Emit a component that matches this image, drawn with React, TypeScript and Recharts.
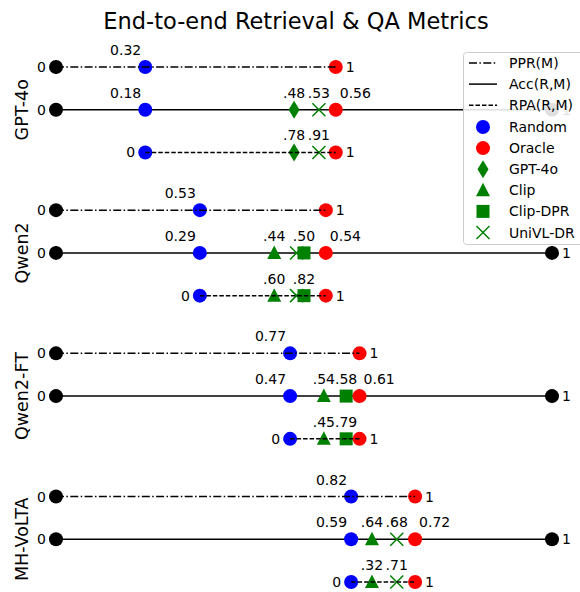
import React from "react";
import { ScatterChart, Scatter, XAxis, YAxis, Legend } from "recharts";

// models (one panel each, top to bottom)
const MODELS = ["GPT-4o", "Qwen2", "Qwen2-FT", "MH-VoLTA"];
// Acc(R,M) of the random and oracle retrievers
const RANDOM_ACC = [0.18, 0.29, 0.472, 0.595];
const ORACLE_ACC = [0.564, 0.544, 0.612, 0.724];
const RANDOM_LABELS = ["0.18", "0.29", "0.47", "0.59"];
const ORACLE_LABELS = ["0.56", "0.54", "0.61", "0.72"];
// PPR(M) = random / oracle, as printed
const PPR_LABELS = ["0.32", "0.53", "0.77", "0.82"];
// retrievers per model, in drawing order
const RETRIEVERS = [
  ["GPT-4o", "UniVL-DR"],
  ["Clip", "UniVL-DR", "Clip-DPR"],
  ["Clip", "Clip-DPR"],
  ["Clip", "UniVL-DR"],
];
const RETRIEVER_ACC = [
  [0.48, 0.53],
  [0.44, 0.485, 0.5],
  [0.54, 0.585],
  [0.637, 0.687],
];
const ACC_LABELS = [
  [".48", ".53"],
  [".44", "", ".50"],
  [".54", ".58"],
  [".64", ".68"],
];
const RPA_LABELS = [
  [".78", ".91"],
  [".60", "", ".82"],
  [".45", ".79"],
  [".32", ".71"],
];

const FONT = "'DejaVu Sans', sans-serif";
const PANEL_STEP = 3.35; // rows per panel incl. gap
const GREEN = "#008000";
const DASHDOT = "8 2.4 1.5 2.4";
const DASHED = "4.5 2";

const rowY = (p: number, row: number) => p * PANEL_STEP + row;

const accLines = MODELS.map((_, p) => [
  { x: 0, y: rowY(p, 1) },
  { x: 1, y: rowY(p, 1) },
]);
const pprLines = MODELS.map((_, p) => [
  { x: 0, y: rowY(p, 0) },
  { x: ORACLE_ACC[p], y: rowY(p, 0) },
]);
const rpaLines = MODELS.map((_, p) => [
  { x: RANDOM_ACC[p], y: rowY(p, 2) },
  { x: ORACLE_ACC[p], y: rowY(p, 2) },
]);

const markers: any[] = [];
const labels: any[] = [];
MODELS.forEach((_, p) => {
  const r = RANDOM_ACC[p];
  const o = ORACLE_ACC[p];
  // PPR row
  markers.push({ x: 0, y: rowY(p, 0), kind: "black" });
  markers.push({ x: r, y: rowY(p, 0), kind: "Random" });
  markers.push({ x: o, y: rowY(p, 0), kind: "Oracle" });
  labels.push({ x: 0, y: rowY(p, 0), text: "0", pos: "left" });
  labels.push({ x: r, y: rowY(p, 0), text: PPR_LABELS[p], pos: "topleft" });
  labels.push({ x: o, y: rowY(p, 0), text: "1", pos: "right" });
  // Acc row
  markers.push({ x: 0, y: rowY(p, 1), kind: "black" });
  markers.push({ x: 1, y: rowY(p, 1), kind: "black" });
  markers.push({ x: r, y: rowY(p, 1), kind: "Random" });
  RETRIEVERS[p].forEach((m, i) => {
    markers.push({ x: RETRIEVER_ACC[p][i], y: rowY(p, 1), kind: m });
    labels.push({ x: RETRIEVER_ACC[p][i], y: rowY(p, 1), text: ACC_LABELS[p][i], pos: "top" });
  });
  markers.push({ x: o, y: rowY(p, 1), kind: "Oracle" });
  labels.push({ x: 0, y: rowY(p, 1), text: "0", pos: "left" });
  labels.push({ x: 1, y: rowY(p, 1), text: "1", pos: "right" });
  labels.push({ x: r, y: rowY(p, 1), text: RANDOM_LABELS[p], pos: "topleft" });
  labels.push({ x: o, y: rowY(p, 1), text: ORACLE_LABELS[p], pos: "topright" });
  // RPA row
  markers.push({ x: r, y: rowY(p, 2), kind: "Random" });
  RETRIEVERS[p].forEach((m, i) => {
    markers.push({ x: RETRIEVER_ACC[p][i], y: rowY(p, 2), kind: m });
    labels.push({ x: RETRIEVER_ACC[p][i], y: rowY(p, 2), text: RPA_LABELS[p][i], pos: "top" });
  });
  markers.push({ x: o, y: rowY(p, 2), kind: "Oracle" });
  labels.push({ x: r, y: rowY(p, 2), text: "0", pos: "left" });
  labels.push({ x: o, y: rowY(p, 2), text: "1", pos: "right" });
});

function Marker({ kind, cx, cy }: { kind: string; cx: number; cy: number }) {
  switch (kind) {
    case "black":
      return <circle cx={cx} cy={cy} r={7} fill="#000" />;
    case "Random":
      return <circle cx={cx} cy={cy} r={7} fill="#0000ff" />;
    case "Oracle":
      return <circle cx={cx} cy={cy} r={7} fill="#ff0000" />;
    case "GPT-4o":
      return <polygon points={`${cx},${cy - 9} ${cx + 5.5},${cy} ${cx},${cy + 9} ${cx - 5.5},${cy}`} fill={GREEN} />;
    case "Clip":
      return <polygon points={`${cx},${cy - 7.5} ${cx + 7},${cy + 6} ${cx - 7},${cy + 6}`} fill={GREEN} />;
    case "Clip-DPR":
      return <rect x={cx - 6.5} y={cy - 6.5} width={13} height={13} fill={GREEN} />;
    case "UniVL-DR":
      return (
        <g stroke={GREEN} strokeWidth={1.5}>
          <line x1={cx - 6.5} y1={cy - 6.5} x2={cx + 6.5} y2={cy + 6.5} />
          <line x1={cx + 6.5} y1={cy - 6.5} x2={cx - 6.5} y2={cy + 6.5} />
        </g>
      );
    default:
      return null;
  }
}

const MarkerShape = (props: any) => {
  const { cx, cy, payload } = props;
  return <Marker kind={payload.kind} cx={cx} cy={cy} />;
};

const LabelShape = (props: any) => {
  const { cx, cy, payload } = props;
  if (!payload.text) return <g />;
  let x = cx;
  let y = cy + 5;
  let anchor = "middle";
  switch (payload.pos) {
    case "left":
      x = cx - 10;
      anchor = "end";
      break;
    case "right":
      x = cx + 10;
      anchor = "start";
      break;
    case "topleft":
      x = cx - 4;
      y = cy - 12;
      anchor = "end";
      break;
    case "topright":
      x = cx + 4;
      y = cy - 12;
      anchor = "start";
      break;
    default:
      y = cy - 12;
  }
  return (
    <text x={x} y={y} textAnchor={anchor} fontSize={14} fontFamily={FONT} fill="#000">
      {payload.text}
    </text>
  );
};

const ModelTick = (props: any) => {
  const { y, index } = props;
  return (
    <text
      x={28}
      y={y}
      transform={`rotate(-90, 28, ${y})`}
      textAnchor="middle"
      fontSize={17.5}
      fontFamily={FONT}
      fill="#000"
    >
      {MODELS[index]}
    </text>
  );
};

const LEGEND_LINES = [
  { label: "PPR(M)", dash: DASHDOT },
  { label: "Acc(R,M)", dash: undefined },
  { label: "RPA(R,M)", dash: DASHED },
];
const LEGEND_MARKERS = ["Random", "Oracle", "GPT-4o", "Clip", "Clip-DPR", "UniVL-DR"];

const renderLegend = () => (
  <svg width={140} height={193} style={{ display: "block" }}>
    <rect x={0.5} y={0.5} width={150} height={192} rx={3} fill="#fff" fillOpacity={0.88} stroke="#cccccc" />
    {LEGEND_LINES.map((l, i) => (
      <g key={l.label}>
        <line x1={6} x2={34} y1={11 + i * 21.1} y2={11 + i * 21.1} stroke="#000" strokeWidth={1.5} strokeDasharray={l.dash} />
        <text x={46} y={16 + i * 21.1} fontSize={14} fontFamily={FONT} fill="#000">
          {l.label}
        </text>
      </g>
    ))}
    {LEGEND_MARKERS.map((m, i) => (
      <g key={m}>
        <Marker kind={m} cx={20} cy={75 + i * 21.1} />
        <text x={46} y={80 + i * 21.1} fontSize={14} fontFamily={FONT} fill="#000">
          {m}
        </text>
      </g>
    ))}
  </svg>
);

const yTicks = MODELS.map((_, p) => rowY(p, 1));
const noShape = () => <g />;

export default function App() {
  return (
    <div
      style={{
        position: "absolute",
        left: 0,
        top: 0,
        width: 580,
        height: 592,
        overflow: "hidden",
        background: "#fff",
        fontFamily: FONT,
      }}
    >
      <div
        style={{
          position: "absolute",
          left: 0,
          top: 8,
          width: 592,
          textAlign: "center",
          fontSize: 22.5,
          color: "#000",
          lineHeight: "normal",
        }}
      >
        End-to-end Retrieval &amp; QA Metrics
      </div>
      <ScatterChart width={580} height={592} margin={{ top: 67, right: 28, bottom: 10, left: 0 }}>
        <XAxis type="number" dataKey="x" domain={[0, 1]} hide />
        <YAxis
          type="number"
          dataKey="y"
          domain={[0, rowY(3, 2)]}
          reversed
          ticks={yTicks}
          tick={<ModelTick />}
          axisLine={false}
          tickLine={false}
          width={56}
          interval={0}
        />
        {accLines.map((d, p) => (
          <Scatter
            key={`acc-${p}`}
            data={d}
            line={{ stroke: "#000", strokeWidth: 1.5 }}
            shape={noShape}
            legendType="none"
            isAnimationActive={false}
          />
        ))}
        <Scatter data={markers} shape={MarkerShape} legendType="none" isAnimationActive={false} />
        {pprLines.map((d, p) => (
          <Scatter
            key={`ppr-${p}`}
            data={d}
            line={{ stroke: "#000", strokeWidth: 1.5, strokeDasharray: DASHDOT }}
            shape={noShape}
            legendType="none"
            isAnimationActive={false}
          />
        ))}
        {rpaLines.map((d, p) => (
          <Scatter
            key={`rpa-${p}`}
            data={d}
            line={{ stroke: "#000", strokeWidth: 1.5, strokeDasharray: DASHED }}
            shape={noShape}
            legendType="none"
            isAnimationActive={false}
          />
        ))}
        <Scatter data={labels} shape={LabelShape} legendType="none" isAnimationActive={false} />
        <Legend
          layout="vertical"
          align="center"
          verticalAlign="middle"
          content={renderLegend}
          wrapperStyle={{ left: 463, top: 52, width: 140, height: 193 }}
        />
      </ScatterChart>
    </div>
  );
}
